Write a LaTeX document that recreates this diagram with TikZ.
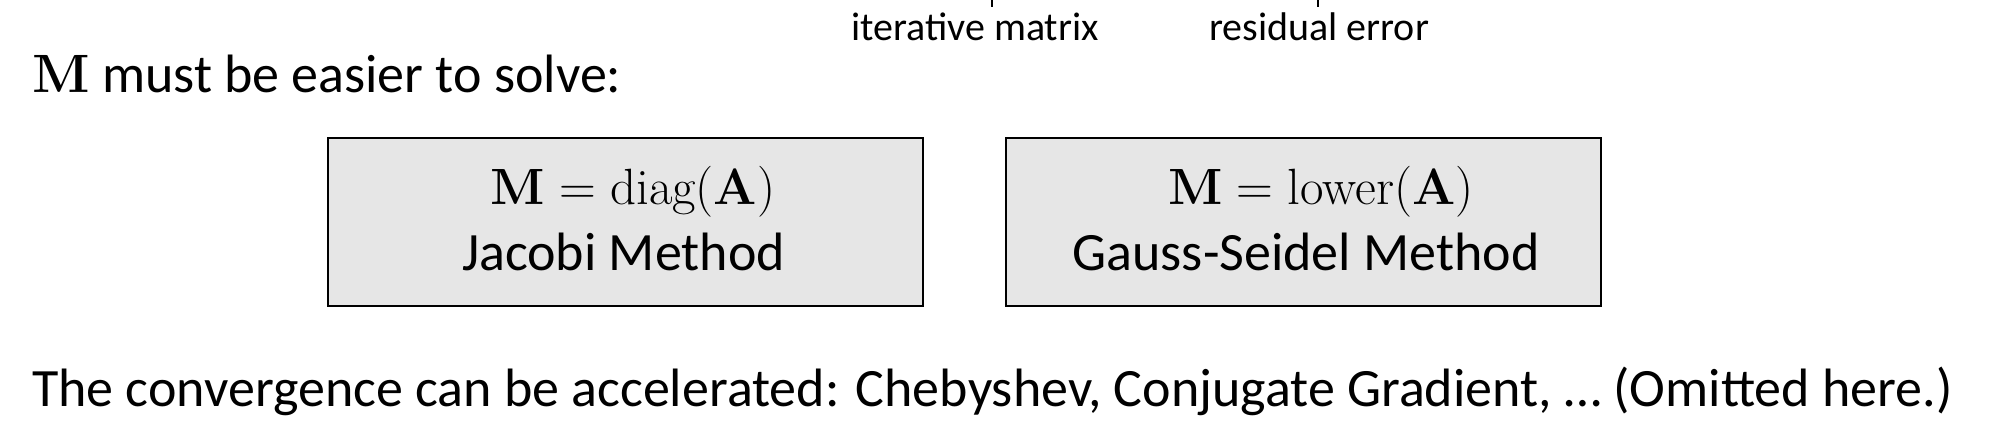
\documentclass[tikz,border=0pt]{standalone}
\usepackage{fontspec}
\newfontfamily\calfont{Carlito}
\newcommand{\bfsym}[1]{{\rmfamily\bfseries #1}}
\newcommand{\releq}{\hspace{0.28em}=\hspace{0.28em}}
\definecolor{boxgray}{HTML}{E6E6E6}
\begin{document}
\begin{tikzpicture}[x=1pt,y=-1pt,
  bigtext/.style={font=\calfont\fontsize{54}{64}\selectfont, inner sep=0pt, anchor=base west},
  boxtext/.style={font=\calfont\fontsize{54}{64}\selectfont, inner sep=0pt, anchor=base},
  mathtext/.style={font=\rmfamily\fontsize{51}{61}\selectfont, inner sep=0pt, anchor=base},
  lab/.style={font=\calfont\fontsize{40}{48}\selectfont, inner sep=0pt, anchor=base west},
  methodbox/.style={draw=black, line width=2pt, fill=boxgray, minimum width=595pt, minimum height=168pt, inner sep=0pt},
  tick/.style={draw=black, line width=1.3pt}]
\useasboundingbox (0,0) rectangle (1991,445);
% labels with ticks
\coordinate (t1a) at (992,0);
\coordinate (t1b) at (992,7);
\coordinate (t2a) at (1318,0);
\coordinate (t2b) at (1318,7);
\draw[tick] (t1a) -- (t1b);
\draw[tick] (t2a) -- (t2b);
\node[lab] (itmat) at (851,40) {iterative matrix};
\node[lab] (reserr) at (1209,40) {residual error};
% heading
\node[bigtext] (head) at (32,92) {\bfsym{M} must be easier to solve:};
% boxes
\node[methodbox] (b1) at (625,222) {};
\node[methodbox] (b2) at (1303.5,222) {};
\node[mathtext] (m1) at (633,204) {\bfsym{M}\releq diag(\bfsym{A})};
\node[boxtext] (j1) at (623.5,270) {Jacobi Method};
\node[mathtext] (m2) at (1321,204) {\bfsym{M}\releq lower(\bfsym{A})};
\node[boxtext] (g2) at (1306,270) {Gauss-Seidel Method};
% bottom line
\node[bigtext] (conv) at (32,406) {The convergence can be accelerated: Chebyshev, Conjugate Gradient, \dots\ (Omitted here.)};
\end{tikzpicture}
\end{document}
